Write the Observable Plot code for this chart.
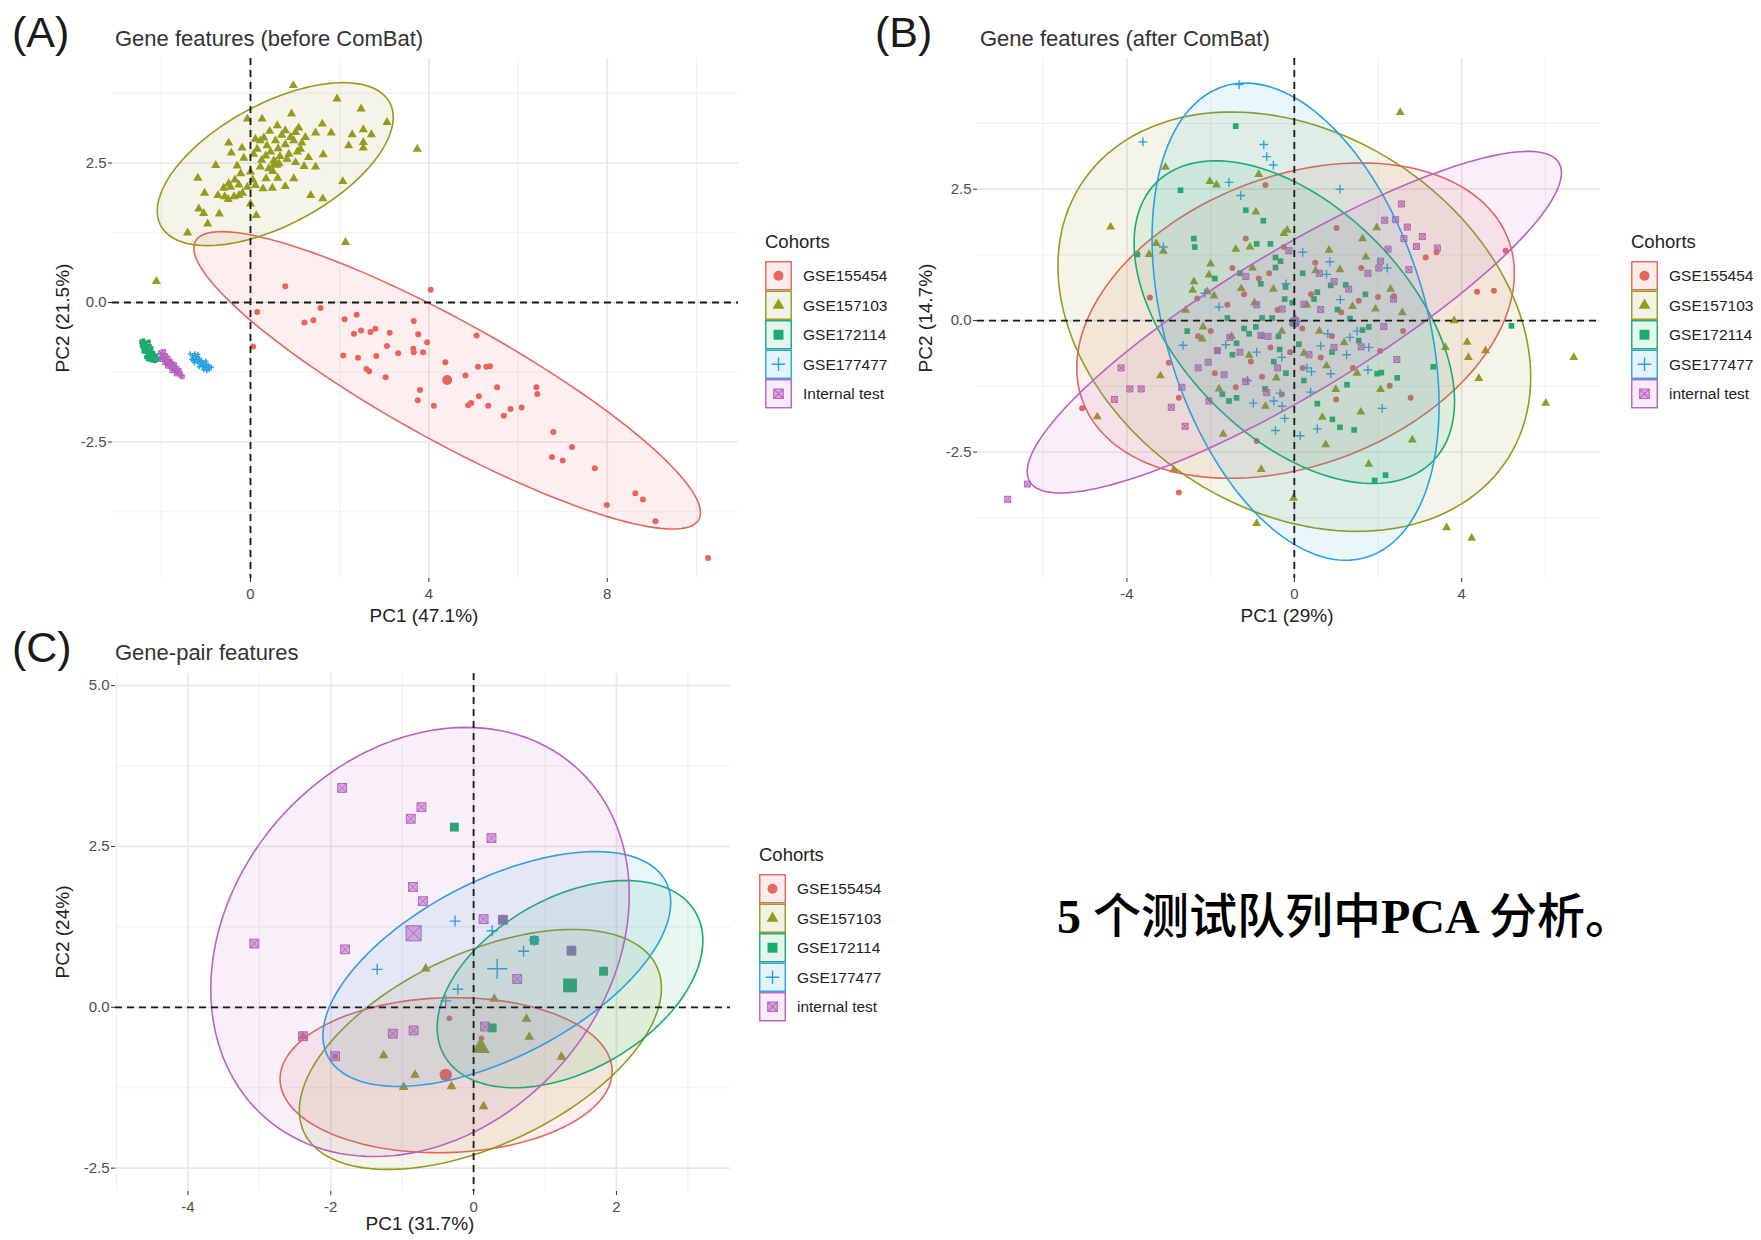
<!DOCTYPE html>
<html><head><meta charset="utf-8">
<script src="https://cdn.jsdelivr.net/npm/d3@7"></script>
<script src="https://cdn.jsdelivr.net/npm/@observablehq/plot@0.6"></script>
<style>
html,body{margin:0;padding:0;background:#fff;}
#root{position:relative;width:1761px;height:1240px;overflow:hidden;background:#fff;font-family:"Liberation Sans",Arial,sans-serif;}
</style></head><body><div id="root"></div>
<script>
// ---------------- DATA ----------------
const cohorts = ["GSE155454","GSE157103","GSE172114","GSE177477","internal test"];
const legendLabelsA = ["GSE155454","GSE157103","GSE172114","GSE177477","Internal test"];
const legendLabelsBC = ["GSE155454","GSE157103","GSE172114","GSE177477","internal test"];
const cohortColors = ["#E8645E","#939C1E","#19AC6E","#27A2E2","#BA62C0"];
const cohortShapes = ["circle","triangle","square","plus","squarecross"];

const panelTitles = ["Gene features (before ComBat)","Gene features (after ComBat)","Gene-pair features"];
const panelTags = ["(A)","(B)","(C)"];
const xTitles = ["PC1 (47.1%)","PC1 (29%)","PC1 (31.7%)"];
const yTitles = ["PC2 (21.5%)","PC2 (14.7%)","PC2 (24%)"];
const legendTitle = "Cohorts";

// tick values
const aXMajor = [0,4,8], aXMinor = [-2,2,6,10];
const aYMajor = [-2.5,0,2.5], aYMinor = [-3.75,-1.25,1.25,3.75];
const bXMajor = [-4,0,4], bXMinor = [-6,-2,2,6];
const bYMajor = [-2.5,0,2.5], bYMinor = [-3.75,-1.25,1.25,3.75];
const cXMajor = [-4,-2,0,2], cXMinor = [-5,-3,-1,1,3];
const cYMajor = [-2.5,0,2.5,5], cYMinor = [-1.25,1.25,3.75];

// ---- Panel A points ----
const aGSE155454 = [[0.78,0.29],[4.04,0.23],[0.15,-0.17],[0.06,-0.79],[1.57,-0.10],[1.21,-0.36],[1.41,-0.32],[2.11,-0.30],[2.38,-0.22],[2.32,-0.56],[2.48,-0.50],[2.69,-0.53],[2.80,-0.47],[3.12,-0.54],[3.66,-0.33],[3.76,-0.57],[3.96,-0.71],[5.07,-0.59],[3.06,-0.78],[3.31,-0.91],[3.65,-0.83],[3.66,-0.89],[3.87,-0.89],[2.08,-0.95],[2.41,-0.99],[2.82,-0.96],[2.60,-1.19],[2.66,-1.23],[3.03,-1.34],[4.37,-1.07],[4.82,-1.31],[5.10,-1.15],[5.29,-1.15],[5.37,-1.14],[3.80,-1.57],[3.75,-1.75],[4.11,-1.85],[4.88,-1.84],[4.95,-1.80],[5.12,-1.68],[5.33,-1.85],[5.53,-1.52],[5.68,-2.03],[5.83,-1.91],[6.08,-1.88],[6.41,-1.52],[6.43,-1.64],[6.79,-2.32],[6.76,-2.77],[7.00,-2.83],[7.21,-2.59],[7.72,-2.97],[7.99,-3.63],[8.63,-3.42],[8.80,-3.53],[9.08,-3.92],[10.26,-4.58]];
const aGSE157103 = [[0.96,3.89],[1.94,3.65],[2.48,3.47],[3.06,3.23],[0.92,3.38],[0.26,3.29],[-0.07,3.29],[1.61,3.20],[0.60,3.17],[0.43,3.07],[0.78,3.08],[1.01,3.05],[1.08,3.13],[1.23,2.96],[1.46,3.04],[1.81,3.04],[2.28,3.01],[2.53,3.10],[2.71,3.01],[-0.49,2.86],[-0.19,2.77],[0.11,2.93],[0.22,2.90],[0.37,2.81],[0.56,2.90],[0.78,2.83],[0.97,2.90],[1.12,2.75],[1.63,2.65],[2.20,2.81],[2.53,2.87],[2.53,2.77],[-0.43,2.68],[-0.15,2.59],[0.07,2.66],[0.34,2.63],[0.52,2.54],[0.64,2.49],[0.82,2.57],[1.01,2.51],[1.20,2.44],[1.46,2.43],[-0.78,2.46],[-0.22,2.31],[0.00,2.34],[0.22,2.43],[0.41,2.40],[0.61,2.23],[0.97,2.22],[-1.18,2.23],[-0.49,2.13],[-0.45,2.07],[-0.26,2.11],[-0.07,2.07],[0.11,2.10],[0.28,2.04],[0.49,2.05],[0.78,2.08],[1.35,1.92],[1.62,1.86],[2.07,2.17],[-1.03,1.96],[-0.73,1.92],[-0.58,1.90],[-0.37,1.90],[-0.26,1.92],[-1.16,1.68],[-1.05,1.60],[-0.70,1.59],[0.00,1.77],[0.13,1.56],[-0.96,1.41],[-1.41,1.25],[3.74,2.75],[2.13,1.08],[-2.11,0.38],[0.15,2.75],[0.30,2.95],[0.45,2.70],[0.62,2.76],[0.70,3.00],[0.86,2.66],[0.90,2.96],[1.05,2.70],[1.15,2.86],[0.25,2.55],[0.50,2.35],[0.66,2.62],[-0.30,2.45],[-0.35,2.20],[-0.60,2.05],[-0.18,1.96],[0.05,2.20],[0.35,2.22],[1.30,2.60],[-0.50,1.85]];
const aGSE172114 = [[-2.45,-0.70],[-2.40,-0.68],[-2.38,-0.75],[-2.42,-0.80],[-2.35,-0.72],[-2.33,-0.82],[-2.30,-0.78],[-2.36,-0.88],[-2.28,-0.86],[-2.25,-0.92],[-2.31,-0.95],[-2.22,-0.82],[-2.20,-0.96],[-2.18,-0.90],[-2.15,-1.00],[-2.12,-0.95],[-2.26,-1.00],[-2.10,-1.03],[-2.05,-1.00],[-2.40,-0.88],[-2.34,-0.98],[-2.22,-1.04],[-2.44,-0.76],[-2.28,-0.70],[-2.39,-0.82],[-2.32,-0.88],[-2.27,-0.94],[-2.24,-0.87],[-2.19,-0.99],[-2.36,-0.78],[-2.30,-1.02],[-2.14,-1.05],[-2.42,-0.72],[-2.26,-0.78]];
const aGSE177477 = [[-1.35,-0.92],[-1.30,-0.95],[-1.28,-1.00],[-1.25,-0.92],[-1.22,-1.02],[-1.20,-0.97],[-1.18,-1.07],[-1.15,-1.00],[-1.12,-1.10],[-1.10,-1.04],[-1.08,-1.14],[-1.05,-1.08],[-1.02,-1.16],[-1.00,-1.10],[-0.97,-1.18],[-0.95,-1.12],[-0.92,-1.20],[-0.88,-1.16],[-1.25,-1.08],[-1.15,-1.15],[-1.05,-1.20],[-1.32,-1.02],[-0.98,-1.22],[-1.18,-0.93],[-1.22,-0.96],[-1.13,-1.05],[-1.06,-1.13],[-1.00,-1.05],[-1.28,-1.04],[-0.93,-1.15]];
const aInternal = [[-2.02,-0.90],[-1.98,-0.95],[-1.95,-0.88],[-1.93,-1.00],[-1.90,-0.95],[-1.88,-1.05],[-1.85,-1.00],[-1.83,-1.10],[-1.80,-1.05],[-1.78,-1.15],[-1.75,-1.10],[-1.72,-1.18],[-1.70,-1.12],[-1.68,-1.22],[-1.65,-1.18],[-1.62,-1.26],[-1.60,-1.22],[-1.57,-1.30],[-1.53,-1.33],[-1.92,-1.08],[-1.86,-1.14],[-1.76,-1.22],[-2.00,-1.02],[-1.66,-1.28],[-1.96,-0.97],[-1.89,-1.00],[-1.82,-1.06],[-1.77,-1.12],[-1.71,-1.15],[-1.64,-1.22],[-1.58,-1.27],[-1.87,-1.09]];
const aCentroids = [[4.41,-1.39],[0.555,2.48],[-2.25,-0.88],[-1.11,-1.07],[-1.77,-1.11]];

// ---- Panel B points ----
const bGSE155454 = [[-5.07,-1.67],[-2.76,-3.27],[-1.16,1.56],[-0.69,2.58],[-0.85,0.80],[-2.32,0.42],[-3.45,0.44],[-2.76,-1.47],[-1.40,-1.27],[-0.77,-1.07],[-1.84,-0.58],[-0.77,-0.30],[-1.04,-0.78],[-1.48,1.00],[-0.25,1.40],[-0.57,-0.51],[-0.90,-2.29],[1.01,1.76],[3.14,1.20],[5.05,1.33],[4.37,0.55],[4.77,0.57],[2.00,0.45],[1.54,0.38],[2.28,-1.24],[2.78,-1.47],[2.05,-0.58],[0.63,-0.70],[0.19,-0.15],[1.12,0.16],[2.38,0.47],[-2.0,-0.2],[-1.6,0.3],[0.4,0.5],[-0.3,-1.4],[1.4,-0.9],[-3.0,-0.8],[0.9,-0.3],[-0.4,0.2],[3.4,1.3],[-1.2,0.5],[-0.6,0.9],[0.5,1.1],[1.6,1.0],[-1.9,-1.0],[0.2,-0.9],[1.0,-1.5],[-2.3,-0.3],[2.6,-0.2],[-0.1,-0.6]];
const bGSE157103 = [[-4.39,1.78],[-3.08,2.92],[-2.02,2.65],[-1.86,2.58],[-0.85,2.78],[-0.92,2.07],[-3.30,1.47],[-3.13,1.32],[-3.47,1.26],[-1.40,1.36],[-1.06,1.40],[-2.00,1.08],[-2.04,0.87],[-2.40,0.74],[-2.43,0.58],[-2.08,0.55],[-1.92,0.47],[-1.27,0.61],[-0.95,0.34],[-0.17,1.72],[-0.25,1.66],[-2.18,-0.12],[-2.20,-0.35],[-3.20,-1.05],[-1.08,-0.66],[-0.69,-1.63],[-0.43,-1.09],[-4.71,-1.83],[-2.88,-2.84],[-1.70,-2.16],[-0.79,-2.83],[-0.90,-3.86],[-0.02,-3.38],[2.53,3.96],[1.97,1.77],[1.63,1.56],[1.71,1.21],[0.83,1.34],[1.09,0.97],[0.51,0.95],[1.94,0.22],[2.58,0.15],[1.39,0.27],[3.82,0.00],[3.61,-0.51],[4.13,-0.41],[4.16,-0.70],[4.57,-0.57],[4.41,-1.10],[6.68,-0.70],[6.01,-1.57],[0.99,-1.31],[2.06,-1.31],[1.59,-1.74],[0.67,-1.84],[0.75,-2.36],[2.82,-2.27],[1.78,-2.73],[3.64,-3.94],[4.24,-4.14],[1.19,-0.42],[0.77,-0.86],[0.23,-0.62],[-1.5,-0.3],[-0.5,0.6],[0.3,0.3],[-1.0,1.0],[0.6,-0.2],[-1.8,-1.3],[1.5,-1.0],[-0.3,-0.2],[2.3,0.6],[-2.6,0.2]];
const bGSE172114 = [[-1.40,3.70],[-2.72,2.48],[-1.16,2.10],[-0.74,1.90],[-2.40,1.56],[-2.38,1.40],[-0.90,1.46],[-0.57,1.46],[-0.45,1.20],[-0.33,1.13],[-0.45,1.01],[-0.21,0.64],[-0.23,0.41],[-0.05,0.34],[-1.60,0.05],[-1.20,-0.15],[-1.08,-0.25],[-0.92,-0.12],[-0.77,0.05],[-2.56,-0.20],[-1.38,-0.43],[-1.48,-0.65],[-0.53,0.05],[-0.38,-0.30],[-0.35,-0.55],[-0.49,-0.78],[-1.72,-1.40],[-1.38,-1.47],[-1.56,-1.53],[-3.75,1.26],[1.23,0.68],[0.47,0.41],[0.55,0.54],[1.03,0.21],[1.33,0.04],[1.78,-0.12],[1.54,-0.38],[1.63,-0.18],[0.11,-0.45],[1.98,-1.01],[2.08,-0.99],[2.46,-1.09],[1.26,-1.22],[3.32,-0.88],[5.19,-0.10],[0.23,-1.14],[0.55,-1.58],[0.91,-1.88],[1.09,-2.03],[1.43,-2.08],[1.92,-3.04],[2.18,-2.94],[0.87,0.67],[-0.8,0.7],[-1.3,0.9],[0.2,0.9],[0.9,-0.6],[-0.2,-1.0],[-1.9,0.8],[1.7,0.5],[-0.7,-1.3]];
const bGSE177477 = [[-1.32,4.49],[-3.62,3.40],[-0.73,3.35],[-0.66,3.12],[-0.50,2.96],[-1.56,2.63],[-1.28,2.38],[-3.13,1.40],[-1.80,0.26],[-2.66,-0.47],[-1.64,-0.46],[-1.12,-1.14],[-0.98,-1.57],[-0.49,-1.53],[-0.34,-1.38],[-0.29,-1.63],[-0.23,-1.86],[-0.45,-2.09],[1.09,2.50],[0.85,1.12],[0.77,0.88],[2.22,1.00],[0.80,-0.25],[0.63,-0.48],[1.33,-0.32],[1.25,-0.65],[1.78,-0.51],[0.41,-0.97],[0.87,-1.01],[1.76,-0.94],[0.39,-1.36],[2.10,-1.67],[0.55,-2.06],[0.14,-2.19],[-2.14,0.52],[-0.2,0.7],[0.3,-0.9],[-0.9,-0.6],[1.1,0.4],[0.2,1.3],[-0.3,-0.7],[1.5,-0.2]];
const bInternal = [[-6.85,-3.40],[-6.38,-3.11],[-4.14,-0.90],[-3.93,-1.30],[-3.66,-1.30],[-4.30,-1.50],[-2.94,-1.65],[-2.61,-2.01],[-2.69,-1.27],[-2.04,-1.53],[-1.84,-0.57],[-2.06,-0.79],[-1.68,-1.03],[-1.16,-1.16],[-0.66,-1.37],[-1.54,-0.32],[-0.80,-0.28],[-0.63,-0.30],[-1.16,0.84],[-0.29,0.22],[-0.13,1.33],[2.56,2.22],[2.16,1.91],[2.42,1.92],[2.70,1.78],[2.62,1.56],[3.06,1.60],[2.92,1.41],[3.42,1.38],[2.24,1.36],[2.06,1.13],[2.02,1.00],[1.76,0.90],[2.74,0.97],[2.37,0.41],[0.95,0.74],[0.63,0.21],[0.23,0.31],[0.95,-0.51],[0.35,-0.65],[2.45,-0.74],[2.14,-0.11],[-1.3,-0.6],[-0.4,-0.9],[0.6,0.9],[1.3,0.6],[-2.3,-0.9],[1.6,-0.5],[-0.9,0.3]];
const bCentroids = [[0.03,0.00],[0.00,-0.02],[0.00,-0.03],[0.03,-0.02],[0.00,-0.03]];

// ---- Panel C points ----
const cGSE155454 = [[-0.34,-0.17],[0.11,-0.48],[-1.94,-0.76],[-2.39,-0.45],[-1.26,-0.75],[-0.82,-1.05],[-0.98,-1.24],[-0.31,-1.23],[0.14,-1.54],[1.23,-0.77]];
const cGSE157103 = [[-0.67,0.60],[0.29,0.13],[0.74,-0.18],[0.78,-0.46],[1.23,-0.77],[-1.26,-0.75],[-0.82,-1.05],[-0.98,-1.24],[-0.31,-1.23],[0.14,-1.54],[0.41,1.36],[1.37,0.88],[1.82,0.56],[-2.39,-0.45]];
const cGSE172114 = [[-0.27,2.80],[0.26,-0.32],[0.85,1.04],[1.37,0.88],[1.82,0.56],[0.41,1.36]];
const cGSE177477 = [[-0.26,1.34],[0.26,1.19],[0.70,0.87],[-1.35,0.59],[-0.22,0.28],[0.85,1.04],[-0.39,0.10]];
const cInternal = [[-1.84,3.41],[-0.73,3.11],[-0.88,2.93],[0.25,2.63],[-0.85,1.87],[-0.71,1.65],[-3.07,0.99],[-1.80,0.90],[0.14,1.37],[0.61,0.44],[-1.13,-0.41],[-0.84,-0.36],[0.16,-0.30],[-1.94,-0.76],[-2.39,-0.45],[0.41,1.36],[1.37,0.88]];
const cCentroids = [[-0.39,-1.05],[0.10,-0.63],[1.35,0.34],[0.33,0.60],[-0.84,1.15]];

// ellipse parameters per cohort: [centre x, centre y, half-width x, half-height y, correlation]
const ellipseA = [[4.41,-1.395,5.68,2.665,-0.89],[0.555,2.48,2.645,1.46,0.575],null,null,null];
const ellipseB = [[0.03,0.00,5.23,3.00,0.30],[0.00,-0.02,5.65,3.99,-0.265],[0.00,-0.03,3.83,3.07,-0.49],[0.03,-0.02,3.43,4.54,-0.35],[0.00,-0.03,6.385,3.25,0.875]];
const ellipseC = [[-0.385,-1.055,2.325,1.205,0.05],[0.095,-0.655,2.535,1.865,0.51],[1.35,0.36,1.86,1.61,0.42],[0.325,0.595,2.435,1.825,0.567],[-0.75,1.015,2.93,3.335,0.22]];

// ---------------- RENDER ----------------
const root = document.getElementById("root");
const FONT = "'Liberation Sans', Arial, sans-serif";

const symPlus = {draw(ctx, size){ const r = Math.sqrt(size/Math.PI); ctx.moveTo(-r,0); ctx.lineTo(r,0); ctx.moveTo(0,-r); ctx.lineTo(0,r); }};
const symSqX = {draw(ctx, size){ const s = Math.sqrt(size/Math.PI)*0.886; ctx.moveTo(-s,-s); ctx.lineTo(s,-s); ctx.lineTo(s,s); ctx.lineTo(-s,s); ctx.closePath(); ctx.moveTo(-s,-s); ctx.lineTo(s,s); ctx.moveTo(s,-s); ctx.lineTo(-s,s); }};

function dotMark(data, ci, r) {
  const color = cohortColors[ci], shape = cohortShapes[ci];
  const base = {x: d => d[0], y: d => d[1], r};
  if (shape === "plus") return Plot.dot(data, {...base, symbol: symPlus, fill: "none", stroke: color, strokeWidth: 1.4});
  if (shape === "squarecross") return Plot.dot(data, {...base, symbol: symSqX, fill: color, fillOpacity: 0.5, stroke: color, strokeWidth: 1});
  return Plot.dot(data, {...base, symbol: shape, fill: color, stroke: "none"});
}

function ellipsePts(e) {
  const n = 144, s = Math.sqrt(1 - e[4]*e[4]), out = [];
  for (let i = 0; i < n; i++) { const t = 2*Math.PI*i/n; out.push([e[0] + e[2]*Math.cos(t), e[1] + e[3]*(e[4]*Math.cos(t) + s*Math.sin(t))]); }
  return out;
}

function makePanel(p) {
  const marks = [
    Plot.gridX(p.xMinor, {stroke: "#F0F0F0", strokeOpacity: 1, strokeWidth: 1.1}),
    Plot.gridY(p.yMinor, {stroke: "#F0F0F0", strokeOpacity: 1, strokeWidth: 1.1}),
    Plot.gridX(p.xMajor, {stroke: "#E8E8E8", strokeOpacity: 1, strokeWidth: 1.7}),
    Plot.gridY(p.yMajor, {stroke: "#E8E8E8", strokeOpacity: 1, strokeWidth: 1.7})
  ];
  p.series.forEach((data, ci) => marks.push(dotMark(data, ci, p.r[ci])));
  p.centroids.forEach((c, ci) => marks.push(dotMark([c], ci, p.rc[ci])));
  p.ellipses.forEach((e, ci) => {
    if (!e) return;
    marks.push(Plot.line(ellipsePts(e), {x: d => d[0], y: d => d[1], curve: "linear-closed", fill: cohortColors[ci], fillOpacity: 0.1, stroke: cohortColors[ci], strokeWidth: 1.6}));
  });
  marks.push(Plot.ruleX([0], {stroke: "#1a1a1a", strokeWidth: 1.8, strokeDasharray: "7,5"}));
  marks.push(Plot.ruleY([0], {stroke: "#1a1a1a", strokeWidth: 1.8, strokeDasharray: "7,5"}));
  marks.push(Plot.axisX(p.xMajor, {tickSize: 4, tickPadding: 6, fontSize: 15, tickFormat: d => String(d).replace("\u2212","-"), label: null, stroke: "#333", fill: "#4D4D4D"}));
  marks.push(Plot.axisY(p.yMajor, {tickSize: 4, tickPadding: 2, fontSize: 15, tickFormat: d => d.toFixed(1), label: null, stroke: "#333", fill: "#4D4D4D"}));
  const svg = Plot.plot({
    width: p.w, height: p.h, marginLeft: p.ml, marginRight: p.mr, marginTop: p.mt, marginBottom: p.mb,
    x: {domain: p.xd, axis: null, label: null},
    y: {domain: p.yd, axis: null, label: null},
    style: {background: "transparent", fontFamily: FONT, color: "#4D4D4D", overflow: "visible"},
    marks
  });
  svg.style.position = "absolute";
  svg.style.left = p.left + "px";
  svg.style.top = p.top + "px";
  root.appendChild(svg);
}

// Panel A: frame x 112..738, y 58..578
makePanel({left: 0, top: 0, w: 760, h: 640, ml: 112, mr: 22, mt: 58, mb: 62,
  xd: [-3.094, 10.942], yd: [-4.946, 4.373],
  xMajor: aXMajor, xMinor: aXMinor, yMajor: aYMajor, yMinor: aYMinor,
  series: [aGSE155454, aGSE157103, aGSE172114, aGSE177477, aInternal],
  r: [3.0, 3.4, 2.3, 2.6, 2.3], centroids: aCentroids, rc: [5.0, 4.6, 2.3, 2.6, 2.3],
  ellipses: ellipseA});

// Panel B: frame x 977..1600, y 58..578
makePanel({left: 880, top: 0, w: 881, h: 640, ml: 97, mr: 161, mt: 58, mb: 62,
  xd: [-7.572, 7.318], yd: [-4.907, 4.987],
  xMajor: bXMajor, xMinor: bXMinor, yMajor: bYMajor, yMinor: bYMinor,
  series: [bGSE155454, bGSE157103, bGSE172114, bGSE177477, bInternal],
  r: [3.0, 3.3, 3.2, 4.4, 3.4], centroids: bCentroids, rc: [4.4, 4.4, 4.6, 6.4, 4.6],
  ellipses: ellipseB});

// Panel C: frame x 115..730, y 673..1191
makePanel({left: 0, top: 620, w: 880, h: 620, ml: 115, mr: 150, mt: 53, mb: 49,
  xd: [-5.014, 3.597], yd: [-2.863, 5.188],
  xMajor: cXMajor, xMinor: cXMinor, yMajor: cYMajor, yMinor: cYMinor,
  series: [cGSE155454, cGSE157103, cGSE172114, cGSE177477, cInternal],
  r: [2.8, 3.6, 5.0, 5.5, 5.0], centroids: cCentroids, rc: [6.2, 6.8, 7.8, 10, 8.5],
  ellipses: ellipseC});

// ---------------- TEXT / LEGENDS OVERLAY ----------------
const ov = d3.select(root).append("svg")
  .attr("width", 1761).attr("height", 1240)
  .style("position", "absolute").style("left", "0px").style("top", "0px").style("pointer-events", "none")
  .style("font-family", FONT);

function txt(s, x, y, size, opts = {}) {
  const t = ov.append("text").attr("x", x).attr("y", y).attr("font-size", size)
    .attr("fill", opts.fill || "#222").attr("text-anchor", opts.anchor || "start").text(s);
  if (opts.rotate) t.attr("transform", `rotate(-90 ${x} ${y})`);
  return t;
}

// tags + titles
txt(panelTags[0], 12, 47, 43, {fill: "#1a1a1a"});
txt(panelTitles[0], 115, 45.5, 22, {fill: "#333"});
txt(panelTags[1], 875, 47, 43, {fill: "#1a1a1a"});
txt(panelTitles[1], 980, 45.5, 22, {fill: "#333"});
txt(panelTags[2], 12, 662, 43, {fill: "#1a1a1a"});
txt(panelTitles[2], 115, 659.5, 22, {fill: "#333"});

// axis titles
txt(xTitles[0], 424, 622, 19, {anchor: "middle"});
txt(yTitles[0], 69, 318, 19, {anchor: "middle", rotate: true});
txt(xTitles[1], 1287, 622, 19, {anchor: "middle"});
txt(yTitles[1], 932, 318, 19, {anchor: "middle", rotate: true});
txt(xTitles[2], 420, 1230, 19, {anchor: "middle"});
txt(yTitles[2], 69, 932, 19, {anchor: "middle", rotate: true});

function symbolPath(ci, r) {
  const shape = cohortShapes[ci];
  const type = shape === "circle" ? d3.symbolCircle : shape === "triangle" ? d3.symbolTriangle :
    shape === "square" ? d3.symbolSquare : shape === "plus" ? symPlus : symSqX;
  return d3.symbol().type(type).size(Math.PI*r*r)();
}
const legendR = [5, 4.4, 5.6, 6.8, 5.4];
function legend(x, y0, labels) {
  txt(legendTitle, x, y0 - 13, 18.5, {fill: "#222"});
  const kh = 29.5, kw = 27;
  labels.forEach((lab, ci) => {
    const y = y0 + ci*kh;
    const c = cohortColors[ci];
    ov.append("rect").attr("x", x + 0.75).attr("y", y + 0.75).attr("width", kw - 1.5).attr("height", kh - 1.5)
      .attr("fill", c).attr("fill-opacity", 0.12).attr("stroke", c).attr("stroke-width", 1.4);
    const p = ov.append("path").attr("d", symbolPath(ci, legendR[ci])).attr("transform", `translate(${x + kw/2},${y + kh/2})`);
    if (cohortShapes[ci] === "plus") p.attr("fill", "none").attr("stroke", c).attr("stroke-width", 1.4);
    else if (cohortShapes[ci] === "squarecross") p.attr("fill", c).attr("fill-opacity", 0.5).attr("stroke", c).attr("stroke-width", 1.1);
    else p.attr("fill", c);
    txt(lab, x + 38, y + kh/2 + 5.5, 15.5, {fill: "#222"});
  });
}
legend(765, 261, legendLabelsA);
legend(1631, 261, legendLabelsBC);
legend(759, 874, legendLabelsBC);

// caption
const cap = ov.append("text").attr("x", 1057).attr("y", 933).attr("font-size", 48).attr("fill", "#000");
const capParts = [["5 ","latin"],["个测试队列中","cjk"],["PCA ","latin"],["分析。","cjk"]];
capParts.forEach(([s, k]) => {
  const t = cap.append("tspan").text(s);
  if (k === "latin") t.attr("font-family", "'Liberation Serif', 'Times New Roman', serif").attr("font-weight", 700);
  else t.attr("font-family", "'Noto Sans CJK SC', sans-serif").attr("font-weight", 500);
});
</script>
</body></html>
